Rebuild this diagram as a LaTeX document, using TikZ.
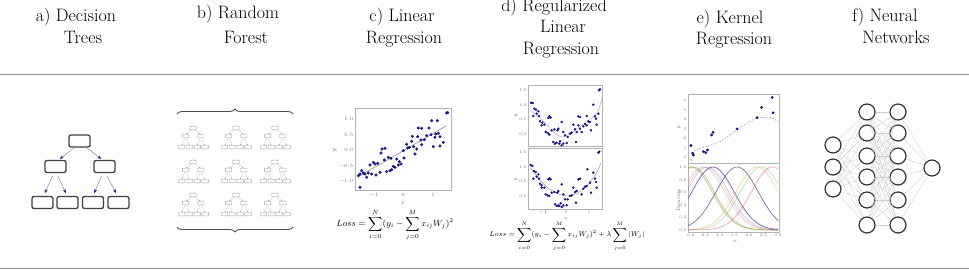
\documentclass[tikz,border=0pt]{standalone}
\usetikzlibrary{decorations.pathreplacing,arrows.meta}
\definecolor{navyd}{RGB}{28,28,140}
\definecolor{tabblue}{RGB}{31,119,180}
\definecolor{taborange}{RGB}{255,127,14}
\definecolor{tabgreen}{RGB}{44,160,44}
\definecolor{tabred}{RGB}{214,39,40}
\definecolor{tabpurple}{RGB}{148,103,189}
\definecolor{tabbrown}{RGB}{140,86,75}
\definecolor{tabpink}{RGB}{227,119,194}
\definecolor{tabolive}{RGB}{188,189,34}
\definecolor{tabcyan}{RGB}{23,190,207}
\definecolor{darkkern}{RGB}{80,80,160}
\begin{document}
\begin{tikzpicture}[x=1pt,y=-1pt,
  ttl/.style={font=\fontsize{18}{22}\selectfont, inner sep=0pt, anchor=base},
  rulel/.style={draw=black!45, line width=1pt},
  tb/.style={draw=black!75, line width=1.3pt, rounded corners=2pt, minimum width=21pt, minimum height=12pt, inner sep=0pt},
  ta/.style={draw=black!45, line width=0.5pt, shorten >=1.5pt, -{Stealth[length=4pt,width=3pt,color=navyd]}},
  tal/.style={ta, shorten <=3pt, shorten >=3pt},
  dtree/.pic={
    \node[tb] (-r) at (0,0) {};
    \node[tb] (-l) at (-24,25.5) {};
    \node[tb] (-q) at (25,25.5) {};
    \node[tb] (-ll) at (-37,61.5) {};
    \node[tb] (-lr) at (-12,61.5) {};
    \node[tb] (-ql) at (13.5,61.5) {};
    \node[tb] (-qr) at (39,61.5) {};
    \draw[ta] (-r.233) -- (-l.65);
    \draw[ta] (-r.317) -- (-q.108);
    \draw[tal] (-l.255) -- (-ll.81);
    \draw[tal] (-l.279) -- (-lr.93);
    \draw[tal] (-q.255) -- (-ql.90);
    \draw[tal] (-q.279) -- (-qr.99);
  },
  brc/.style={draw=black!70, line width=0.9pt, decorate, decoration={brace, amplitude=5pt}},
  frame/.style={draw=black!30, line width=0.5pt},
  dotc/.style={fill=navyd, draw=blue!50!black, line width=0.2pt},
  tick/.style={font=\fontsize{5}{6}\selectfont, text=black!55, inner sep=0.5pt},
  tickd/.style={font=\fontsize{4}{5}\selectfont, text=black!55, inner sep=0.4pt},
  neur/.style={circle, draw=black!80, line width=1.2pt, minimum size=16pt, inner sep=0pt},
  syn/.style={draw=black!18, line width=0.4pt}
]
\path[use as bounding box, fill=white] (0,0) rectangle (969,269);

% ---------- titles ----------
\node[ttl] (ta1) at (76,21) {a) Decision};
\node[ttl] (ta2) at (83,43) {Trees};
\node[ttl] (tb1) at (238,18) {b) Random};
\node[ttl] (tb2) at (246,43) {Forest};
\node[ttl] (tc1) at (402,21.5) {c) Linear};
\node[ttl] (tc2) at (404,43) {Regression};
\node[ttl] (td1) at (554,11) {d) Regularized};
\node[ttl] (td2) at (563,32.5) {Linear};
\node[ttl] (td3) at (561,54) {Regression};
\node[ttl] (te1) at (730,23) {e) Kernel};
\node[ttl] (te2) at (734,44.5) {Regression};
\node[ttl] (tf1) at (885,21) {f) Neural};
\node[ttl] (tf2) at (896,43) {Networks};

% ---------- rules ----------
\coordinate (r1a) at (0,74); \coordinate (r1b) at (969,74);
\coordinate (r2a) at (0,268); \coordinate (r2b) at (969,268);
\draw[rulel] (r1a) -- (r1b);
\draw[rulel] (r2a) -- (r2b);

% ---------- a) decision tree ----------
\pic (big) at (79.5,141) {dtree};

% ---------- b) random forest ----------
\foreach \cx [count=\ci] in {193,236,275}{
  \foreach \cy [count=\ri] in {128,162,195}{
    \pic[scale=0.31, transform shape,
      tb/.style={draw=black!38, line width=0.4pt, rounded corners=0.6pt, minimum width=21pt, minimum height=12pt, inner sep=0pt},
      ta/.style={draw=black!25, line width=0.25pt, -{Stealth[length=1.1pt,width=0.9pt,color=navyd!60]}},
      tal/.style={ta}] (sm\ci\ri) at (\cx,\cy) {dtree};
  }
}
\coordinate (bra) at (177,114); \coordinate (brb) at (293,114);
\coordinate (brc) at (293,227); \coordinate (brd) at (177,227);
\draw[brc] (bra) -- (brb);
\draw[brc] (brc) -- (brd);

% ---------- c) linear regression ----------
\begin{scope}[shift={(350pt,-104pt)}, x={(0.3333pt,0pt)}, y={(0pt,-0.3333pt)}]
  \draw[frame] (15,12) rectangle (303,258);
  \draw[draw=black!50, line width=0.5pt] (25,218) -- (290,65);
  \foreach \px/\py in {290/27,293/26,245/50,262/50,205/72,215/73,237/72,187/97,203/98,230/95,243/92,257/90,270/98,265/88,
    223/107,213/108,185/112,170/121,191/128,200/135,215/122,178/130,173/132,250/128,270/126,280/115,255/100,
    96/135,105/133,93/147,160/140,162/162,195/150,148/173,145/183,153/180,130/187,135/190,115/160,123/163,103/168,
    70/175,60/183,83/178,75/180,90/205,110/203,120/200,65/210,78/213,55/207,40/207,45/210,35/200,30/210,25/215,
    50/220,30/250,140/165,125/197}
    \fill[dotc] (\px,\py) circle (1.4pt);
\end{scope}
\foreach \lab/\yy [count=\i] in {1.0/119,0.5/135,0.0/150,$-0.5$/166,$-1.0$/181}
  \node[tick, anchor=east] (cy\i) at (354,\yy) {\lab};
\foreach \lab/\xx [count=\i] in {$-1$/374,0/403,1/433}
  \node[tick, anchor=north] (cx\i) at (\xx,192) {\lab};
\node[tick, font=\fontsize{6}{7}\selectfont] (cxl) at (403,203) {$x$};
\node[tick, font=\fontsize{6}{7}\selectfont, rotate=90] (cyl) at (335,150) {$y$};
\node[font=\fontsize{9}{10}\selectfont, inner sep=0pt] (lossc) at (395,225)
  {$\displaystyle Loss=\sum_{i=0}^{N}(y_i-\sum_{j=0}^{M}x_{ij}W_j)^2$};

% ---------- d) regularized ----------
\begin{scope}[shift={(515pt,-82pt)}, x={(0.3333pt,0pt)}, y={(0pt,-0.3333pt)}]
  \draw[frame] (39,9) rectangle (261,192);
  \draw[draw=tabpurple!60, line width=0.5pt] plot[smooth] coordinates {(45,85) (80,112) (110,145) (140,165) (170,152) (200,130) (230,108) (250,85) (260,50)};
  \foreach \px/\py in {255/22,252/25,48/62,53/63,58/80,63/83,65/95,70/88,55/102,72/102,75/118,82/122,80/130,88/128,103/103,100/108,107/107,
    92/150,98/153,103/158,110/145,118/142,127/145,130/140,140/120,145/150,150/160,115/180,120/185,125/182,133/185,135/178,140/190,145/185,
    155/183,158/165,165/155,170/152,175/128,180/142,185/150,190/130,195/140,200/150,205/133,210/126,215/130,215/102,190/103,195/105,
    183/180,220/118,225/120,235/68,240/103,245/128,243/110,250/95,228/145}
    \fill[dotc] (\px,\py) circle (1.1pt);
\end{scope}
\begin{scope}[shift={(515pt,-146pt)}, x={(0.3333pt,0pt)}, y={(0pt,-0.3333pt)}]
  \draw[frame] (39,6) rectangle (261,190);
  \draw[draw=black!40, line width=0.5pt] plot[smooth] coordinates {(45,65) (75,102) (105,130) (150,150) (190,140) (220,115) (245,80) (258,50)};
  \foreach \px/\py in {250/20,253/17,47/57,52/60,57/75,62/78,65/92,70/85,55/98,72/98,75/113,80/118,80/125,88/125,103/97,100/100,107/100,
    92/145,98/148,103/150,110/140,118/138,127/140,130/135,140/115,145/145,150/160,120/175,125/180,130/178,133/180,137/172,140/183,145/178,
    155/178,158/160,165/150,170/148,175/125,180/138,185/135,190/100,195/98,200/145,205/128,210/122,215/120,217/70,240/98,228/140,
    243/108,245/125,235/80,183/170,225/110}
    \fill[dotc] (\px,\py) circle (1.1pt);
\end{scope}
\foreach \lab/\yy [count=\i] in {1.5/90,1.0/105,0.5/119,0.0/134}
  \node[tickd, anchor=east] (dyt\i) at (527,\yy) {\lab};
\foreach \lab/\yy [count=\i] in {1.5/152,1.0/167,0.5/181,0.0/196}
  \node[tickd, anchor=east] (dyb\i) at (527,\yy) {\lab};
\foreach \lab/\xx [count=\i] in {$-1$/543,0/566,1/589}
  \node[tickd, anchor=north] (dx\i) at (\xx,210) {\lab};
\node[tickd, font=\fontsize{5}{6}\selectfont] (dxl) at (566,218) {$x$};
\node[tickd, font=\fontsize{5}{6}\selectfont, rotate=90] (dyl1) at (516,116) {$y$};
\node[tickd, font=\fontsize{5}{6}\selectfont, rotate=90] (dyl2) at (516,180) {$y$};
\node[font=\fontsize{7}{8}\selectfont, inner sep=0pt] (lossd) at (567,236)
  {$\displaystyle Loss=\sum_{i=0}^{N}(y_i-\sum_{j=0}^{M}x_{ij}W_j)^2+\lambda\sum_{j=0}^{M}|W_j|$};

% ---------- e) kernel regression ----------
\draw[frame] (688,94) rectangle (779,163);
\draw[frame] (688,163) rectangle (779,232);
\begin{scope}[shift={(691pt,-157pt)}, x={(29pt,0pt)}, y={(0pt,9.6pt)}]
  \draw[draw=black!45, line width=0.5pt, dash pattern=on 1.5pt off 1.5pt] plot[smooth] coordinates {(0.02,0.45) (0.31,0.9) (1.0,1.6) (1.57,2.8) (1.92,3.5) (2.26,4.03) (2.72,4.13) (3.0,3.68)};
  \foreach \px/\py in {0.0/1.2,0.06/0.38,0.08/0.2,0.43/0.56,0.51/0.45,0.57/0.73,0.71/2.29,0.76/2.57,1.59/2.92,2.28/4.1,2.43/5.17,2.8/6.2,2.83/4.6}
    \fill[dotc] (\px,\py) circle (1.3pt);
  \fill[tabblue!40] (0.01,-0.3) circle (1.2pt);
\end{scope}
\begin{scope}[shift={(691pt,-230pt)}, x={(29pt,0pt)}, y={(0pt,63pt)}]
  \foreach \c/\col/\op in {0.0/tabblue/0.35,0.06/taborange/0.35,0.08/tabgreen/0.35,0.01/tabolive/0.45,0.43/tabred/0.3,0.51/tabpurple/0.3,
      0.57/tabbrown/0.3,0.71/tabpink/0.3,0.76/darkkern/0.9,1.59/darkkern/0.9,2.28/taborange/0.4,2.43/tabgreen/0.35,2.8/tabred/0.3,2.83/tabpink/0.35}
    \draw[color=\col, opacity=\op, line width=0.6pt] plot[domain=-0.1:3.0, samples=50, smooth] (\x,{exp(-(\x-\c)*(\x-\c)/1.06)});
\end{scope}
\foreach \lab/\yy [count=\i] in {6/100,5/110,4/119,3/129,2/138,1/148,0/157}
  \node[tickd, anchor=east] (eyt\i) at (687,\yy) {\lab};
\foreach \lab/\yy [count=\i] in {1.0/167,0.8/180,0.6/192,0.4/205,0.2/217,0.0/230}
  \node[tickd, anchor=east] (eyb\i) at (687,\yy) {\lab};
\foreach \lab/\xx [count=\i] in {0.0/691,0.5/705.5,1.0/720,1.5/734.5,2.0/749,2.5/763.5,3.0/778}
  \node[tickd, anchor=north] (ex\i) at (\xx,233) {\lab};
\node[tickd, font=\fontsize{5}{6}\selectfont] (exl) at (735,241) {$x$};
\node[tickd, font=\fontsize{5}{6}\selectfont, rotate=90] (eyl) at (679,128) {$y$};
\node[tickd, font=\fontsize{5}{6}\selectfont, rotate=90] (eden) at (679,200) {Density};

% ---------- f) neural network ----------
\foreach \yy [count=\i] in {145,167,189} \node[neur] (in\i) at (833,\yy) {};
\foreach \yy [count=\i] in {112,133,156,177,200,225} \node[neur] (ha\i) at (867,\yy) {};
\foreach \yy [count=\i] in {112,133,156,177,200,225} \node[neur] (hb\i) at (898,\yy) {};
\node[neur] (out) at (932,168) {};
\foreach \i in {1,2,3} \foreach \j in {1,...,6} \draw[syn] (in\i) -- (ha\j);
\foreach \i in {1,...,6} \foreach \j in {1,...,6} \draw[syn] (ha\i) -- (hb\j);
\foreach \i in {1,...,6} \draw[syn] (hb\i) -- (out);
\end{tikzpicture}
\end{document}
